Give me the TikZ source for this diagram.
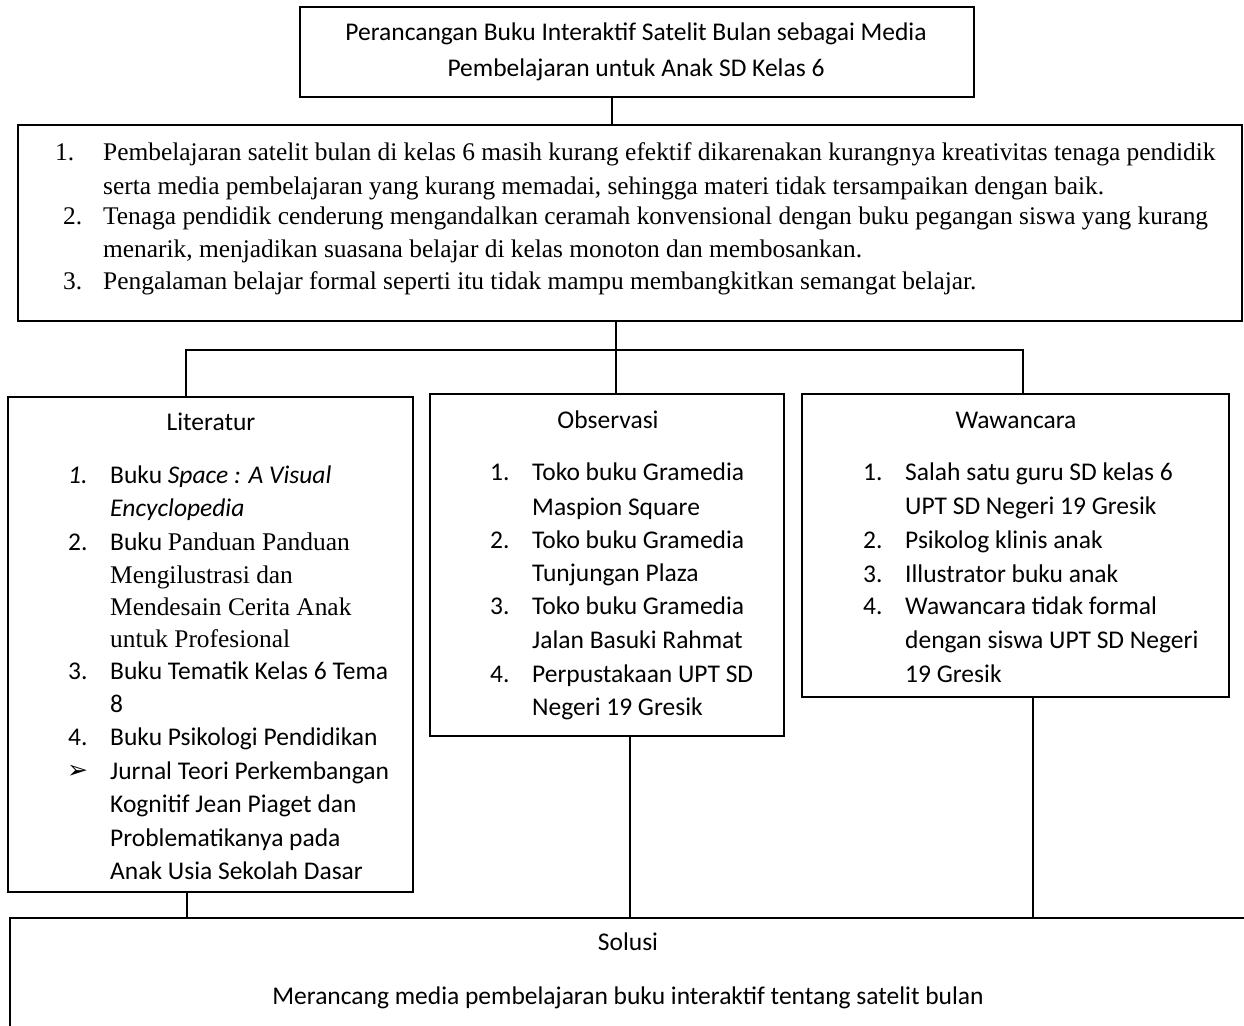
\documentclass[tikz,border=0pt]{standalone}
\usepackage{fontspec}
\setmainfont{Carlito}
\newfontfamily\tnr{Liberation Serif}
\newfontfamily\djv{DejaVu Sans}
\begin{document}
\begin{tikzpicture}[x=1pt,y=-1pt,
  box/.style={draw, line width=1.6pt, inner sep=0pt, outer sep=0pt, anchor=north west},
  conn/.style={line width=1.3pt},
  txt/.style={anchor=base west, inner sep=0pt, font=\fontsize{25.5}{30}\selectfont},
  ctxt/.style={anchor=base, inner sep=0pt, font=\fontsize{25.5}{30}\selectfont},
  stxt/.style={anchor=base west, inner sep=0pt, font=\fontsize{25.4}{30}\selectfont\tnr}]
\useasboundingbox (0,0) rectangle (1244,1025);
% boxes
\node[box, minimum width=674pt, minimum height=90pt] (top) at (300,7) {};
\node[box, minimum width=1224pt, minimum height=196pt] (prob) at (18,125) {};
\node[box, minimum width=405pt, minimum height=495pt] (lit) at (8,397) {};
\node[box, minimum width=354pt, minimum height=342pt] (obs) at (430,394) {};
\node[box, minimum width=427pt, minimum height=303pt] (waw) at (802,394) {};
\node[box, minimum width=1260pt, minimum height=140pt] (sol) at (10,918) {};
% connector coordinates
\coordinate (c0) at (612,0);
\coordinate (j) at (616,350);
\coordinate (b1) at (186,350);
\coordinate (b3) at (1023,350);
\coordinate (d1) at (187,0);
\coordinate (d2) at (630,0);
\coordinate (d3) at (1033,0);
\draw[conn] (top.south -| c0) -- (prob.north -| c0);
\draw[conn] (prob.south -| j) -- (j);
\draw[conn] (lit.north -| b1) -- (b1) -- (b3) -- (waw.north -| b3);
\draw[conn] (j) -- (obs.north -| j);
\draw[conn] (lit.south -| d1) -- (sol.north -| d1);
\draw[conn] (obs.south -| d2) -- (sol.north -| d2);
\draw[conn] (waw.south -| d3) -- (sol.north -| d3);
% top text
\node[ctxt] (t1) at (636,41) {Perancangan Buku Interaktif Satelit Bulan sebagai Media};
\node[ctxt] (t2) at (636,76) {Pembelajaran untuk Anak SD Kelas 6};
% problem text
\node[stxt] (pn1) at (55,160) {1.};
\node[stxt] (p1a) at (103,160) {Pembelajaran satelit bulan di kelas 6 masih kurang efektif dikarenakan kurangnya kreativitas tenaga pendidik};
\node[stxt] (p1b) at (103,194) {serta media pembelajaran yang kurang memadai, sehingga materi tidak tersampaikan dengan baik.};
\node[stxt] (pn2) at (63,224) {2.};
\node[stxt] (p2a) at (103,224) {Tenaga pendidik cenderung mengandalkan ceramah konvensional dengan buku pegangan siswa yang kurang};
\node[stxt] (p2b) at (103,257) {menarik, menjadikan suasana belajar di kelas monoton dan membosankan.};
\node[stxt] (pn3) at (63,289) {3.};
\node[stxt] (p3a) at (103,289) {Pengalaman belajar formal seperti itu tidak mampu membangkitkan semangat belajar.};
% Literatur
\node[ctxt] (lt) at (211,430) {Literatur};
\node[txt] (ln1) at (68,483) {\textit{1.}};
\node[txt] (l1a) at (110,483) {Buku \textit{Space : A Visual}};
\node[txt] (l1b) at (110,516) {\textit{Encyclopedia}};
\node[txt] (ln2) at (68,550) {2.};
\node[txt] (l2a) at (110,550) {Buku {\tnr Panduan Panduan}};
\node[stxt] (l2b) at (110,583) {Mengilustrasi dan};
\node[stxt] (l2c) at (110,615) {Mendesain Cerita Anak};
\node[stxt] (l2d) at (110,647) {untuk Profesional};
\node[txt] (ln3) at (68,679) {3.};
\node[txt] (l3a) at (110,679) {Buku Tematik Kelas 6 Tema};
\node[txt] (l3b) at (110,712) {8};
\node[txt] (ln4) at (68,745) {4.};
\node[txt] (l4a) at (110,745) {Buku Psikologi Pendidikan};
\node[anchor=base west, inner sep=0pt, font=\fontsize{25}{28}\selectfont\djv] (ln5) at (67,778) {➢};
\node[txt] (l5a) at (110,779) {Jurnal Teori Perkembangan};
\node[txt] (l5b) at (110,812) {Kognitif Jean Piaget dan};
\node[txt] (l5c) at (110,846) {Problematikanya pada};
\node[txt] (l5d) at (110,879) {Anak Usia Sekolah Dasar};
% Observasi
\node[ctxt] (ot) at (608,428) {Observasi};
\node[txt] (on1) at (490,480) {1.};
\node[txt] (o1a) at (532,480) {Toko buku Gramedia};
\node[txt] (o1b) at (532,515) {Maspion Square};
\node[txt] (on2) at (490,548) {2.};
\node[txt] (o2a) at (532,548) {Toko buku Gramedia};
\node[txt] (o2b) at (532,581) {Tunjungan Plaza};
\node[txt] (on3) at (490,614) {3.};
\node[txt] (o3a) at (532,614) {Toko buku Gramedia};
\node[txt] (o3b) at (532,648) {Jalan Basuki Rahmat};
\node[txt] (on4) at (490,682) {4.};
\node[txt] (o4a) at (532,682) {Perpustakaan UPT SD};
\node[txt] (o4b) at (532,715) {Negeri 19 Gresik};
% Wawancara
\node[ctxt] (wt) at (1016,428) {Wawancara};
\node[txt] (wn1) at (863,480) {1.};
\node[txt] (w1a) at (905,480) {Salah satu guru SD kelas 6};
\node[txt] (w1b) at (905,514) {UPT SD Negeri 19 Gresik};
\node[txt] (wn2) at (863,548) {2.};
\node[txt] (w2a) at (905,548) {Psikolog klinis anak};
\node[txt] (wn3) at (863,582) {3.};
\node[txt] (w3a) at (905,582) {Illustrator buku anak};
\node[txt] (wn4) at (863,614) {4.};
\node[txt] (w4a) at (905,614) {Wawancara tidak formal};
\node[txt] (w4b) at (905,648) {dengan siswa UPT SD Negeri};
\node[txt] (w4c) at (905,682) {19 Gresik};
% Solusi
\node[ctxt] (st) at (628,950) {Solusi};
\node[ctxt] (sx) at (628,1004) {Merancang media pembelajaran buku interaktif tentang satelit bulan};
\end{tikzpicture}
\end{document}
